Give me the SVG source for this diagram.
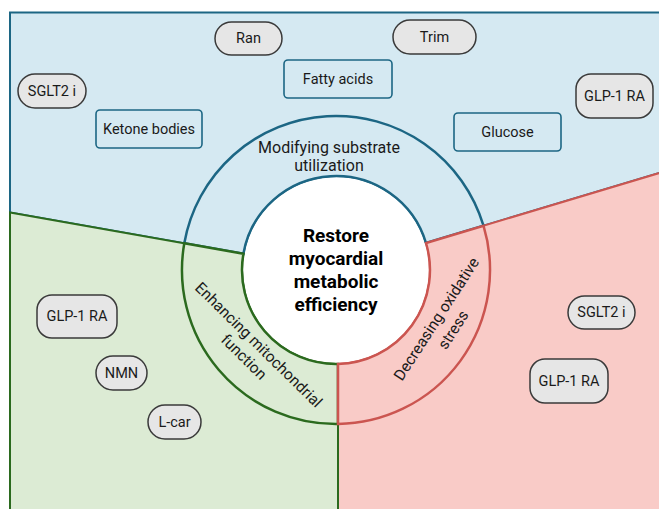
<svg xmlns="http://www.w3.org/2000/svg" width="659" height="509" viewBox="0 0 659 509">
<style>
.bb{fill:#d5e9f2;stroke:#1c6684;stroke-width:2}
.gb{fill:#dcebd4;stroke:#2b6a1e;stroke-width:2}
.rb{fill:#f9cbc7;stroke:#cb5550;stroke-width:2}
.rb2{fill:#f9cbc7;stroke:#cb5550;stroke-width:2.5}
.bb2{fill:#d5e9f2;stroke:#1c6684;stroke-width:2.5}
.gb2{fill:#dcebd4;stroke:#2b6a1e;stroke-width:2.5}
.pill{fill:#e6e6e6;stroke:#3a3a3a;stroke-width:1.5}
.box{fill:#d5e9f2;stroke:#1c6684;stroke-width:1.6}
text{font-family:Roboto,"Liberation Sans",sans-serif;fill:#1a1a1a}
.t{font-size:14.5px;text-anchor:middle;dominant-baseline:central}
.title{font-size:19px;font-weight:bold;text-anchor:middle;fill:#000}
.ring{font-size:15.5px;text-anchor:middle;dominant-baseline:central}
.top{font-size:16px;text-anchor:middle}
</style>
<rect width="659" height="509" fill="#ffffff"/>
<circle cx="336" cy="270" r="94" fill="#ffffff"/>
<g id="regions">
<path class="bb" d="M10,12.5 L680,12.5 L680,166.8 L426,243 A94,94 0 0,0 243.4,253.7 L10,212.5 Z"/>
<path class="rb" d="M426,243 L680,166.8 L680,530 L338,530 L338,364 A94,94 0 0,0 426,243 Z"/>
<path class="gb" d="M10,212.5 L243.4,253.7 A94,94 0 0,0 338,364 L338,530 L10,530 Z"/>
<path class="bb2" d="M184.3,243.3 A154,154 0 0,1 483.5,225.7 L426,243 A94,94 0 0,0 243.4,253.7 Z"/>
<path class="gb2" d="M184.3,243.3 L243.4,253.7 A94,94 0 0,0 338,364 L338,424 A154,154 0 0,1 184.3,243.3 Z"/>
<path class="rb2" d="M338,364 A94,94 0 0,0 426,243 L483.5,225.7 A154,154 0 0,1 338,424 Z"/>
</g>
<g id="center">
<text class="title" x="336" y="242">Restore</text>
<text class="title" x="336" y="265">myocardial</text>
<text class="title" x="336" y="288">metabolic</text>
<text class="title" x="336" y="311">efficiency</text>
</g>
<g id="ring-labels">
<text class="top" x="329" y="153">Modifying substrate</text>
<text class="top" x="329" y="171">utilization</text>
<g transform="translate(258.5,345) rotate(44.5)">
<text class="ring" x="0" y="0">Enhancing mitochondrial</text>
<text class="ring" x="-2" y="19">function</text>
</g>
<g transform="translate(436.7,319) rotate(-57)">
<text class="ring" x="0" y="0">Decreasing oxidative</text>
<text class="ring" x="0" y="20">stress</text>
</g>
</g>
<g id="node-ran"><rect class="pill" x="215" y="22" width="67" height="33" rx="16.5"/><text class="t" x="248.5" y="38.5">Ran</text></g>
<g id="node-trim"><rect class="pill" x="393" y="20" width="83" height="34" rx="17"/><text class="t" x="434.5" y="37">Trim</text></g>
<g id="node-fatty"><rect class="box" x="284" y="60" width="108" height="38" rx="4"/><text class="t" x="338" y="79">Fatty acids</text></g>
<g id="node-sglt2-top"><rect class="pill" x="18" y="74" width="68" height="34" rx="17"/><text class="t" x="52" y="91">SGLT2 i</text></g>
<g id="node-ketone"><rect class="box" x="96" y="110" width="106" height="38" rx="4"/><text class="t" x="149" y="129">Ketone bodies</text></g>
<g id="node-glucose"><rect class="box" x="454" y="113" width="107" height="38" rx="4"/><text class="t" x="507.5" y="132">Glucose</text></g>
<g id="node-glp1-top"><rect class="pill" x="576" y="74" width="77" height="44" rx="15"/><text class="t" x="614.5" y="96">GLP-1 RA</text></g>
<g id="node-glp1-green"><rect class="pill" x="37" y="295" width="80" height="43" rx="15"/><text class="t" x="77" y="316.5">GLP-1 RA</text></g>
<g id="node-nmn"><rect class="pill" x="96" y="356" width="51" height="34" rx="17"/><text class="t" x="121.5" y="373">NMN</text></g>
<g id="node-lcar"><rect class="pill" x="148" y="405" width="53" height="34" rx="17"/><text class="t" x="174.5" y="422">L-car</text></g>
<g id="node-sglt2-red"><rect class="pill" x="568" y="296" width="67" height="33" rx="16.5"/><text class="t" x="601.5" y="312.5">SGLT2 i</text></g>
<g id="node-glp1-red"><rect class="pill" x="530" y="359" width="78" height="44" rx="15"/><text class="t" x="569" y="381">GLP-1 RA</text></g>
</svg>
